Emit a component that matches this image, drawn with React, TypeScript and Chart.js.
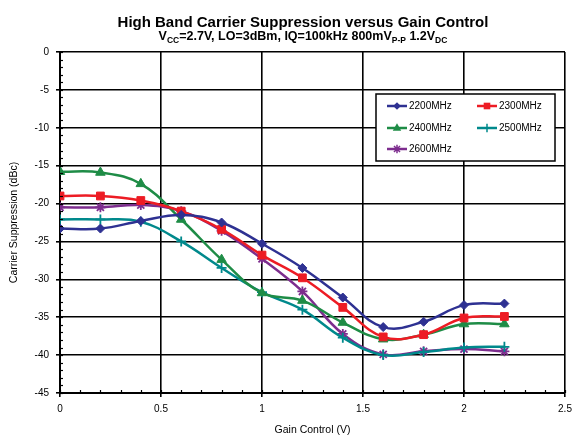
import React, { useEffect, useRef } from "react";
import { Chart, registerables } from "chart.js";

Chart.register(...registerables);

const gainControl = [0, 0.2, 0.4, 0.6, 0.8, 1.0, 1.2, 1.4, 1.6, 1.8, 2.0, 2.2];
const s2200 = [-23.3, -23.3, -22.3, -21.5, -22.5, -25.3, -28.5, -32.4, -36.3, -35.6, -33.4, -33.2];
const s2300 = [-19.0, -19.0, -19.6, -21.0, -23.4, -26.8, -29.8, -33.7, -37.6, -37.3, -35.1, -34.9];
const s2400 = [-15.8, -15.9, -17.4, -22.1, -27.4, -31.8, -32.8, -35.7, -37.9, -37.3, -35.9, -35.9];
const s2500 = [-22.1, -22.1, -22.4, -25.0, -28.5, -31.7, -34.0, -37.7, -40.0, -39.6, -39.0, -38.9];
const s2600 = [-20.5, -20.5, -20.2, -21.0, -23.6, -27.3, -31.6, -37.2, -39.9, -39.5, -39.2, -39.5];
const seriesNames = ["2200MHz", "2300MHz", "2400MHz", "2500MHz", "2600MHz"];
const titleLine1 = "High Band Carrier Suppression versus Gain Control";
const titleLine2 = [
  { t: "V", sub: false },
  { t: "CC", sub: true },
  { t: "=2.7V, LO=3dBm, IQ=100kHz 800mV", sub: false },
  { t: "P-P", sub: true },
  { t: " 1.2V", sub: false },
  { t: "DC", sub: true },
];
const xTitle = "Gain Control (V)";
const yTitle = "Carrier Suppression (dBc)";

const FONT = "'Liberation Sans', Arial, sans-serif";

const colors = ["#2E3192", "#ED1C24", "#1E8C46", "#00898C", "#7D2D8E"];
const styles = ["rectRot", "rect", "triangle", "cross", "star"];
const radii = [4.5, 5.5, 5.5, 5, 5];

function drawMarker(ctx: any, style: string, x: number, y: number, r: number, color: string) {
  ctx.save();
  ctx.fillStyle = color;
  ctx.strokeStyle = color;
  ctx.lineWidth = 1.5;
  ctx.beginPath();
  if (style === "rectRot") {
    ctx.moveTo(x, y - r);
    ctx.lineTo(x + r, y);
    ctx.lineTo(x, y + r);
    ctx.lineTo(x - r, y);
    ctx.closePath();
    ctx.fill();
  } else if (style === "rect") {
    const s = r * Math.SQRT1_2;
    ctx.fillRect(x - s, y - s, 2 * s, 2 * s);
  } else if (style === "triangle") {
    ctx.moveTo(x, y - r);
    ctx.lineTo(x + r * 0.9, y + r * 0.6);
    ctx.lineTo(x - r * 0.9, y + r * 0.6);
    ctx.closePath();
    ctx.fill();
  } else if (style === "cross") {
    ctx.moveTo(x, y - r);
    ctx.lineTo(x, y + r);
    ctx.moveTo(x - r, y);
    ctx.lineTo(x + r, y);
    ctx.stroke();
  } else {
    const d = r * Math.SQRT1_2;
    ctx.moveTo(x, y - r);
    ctx.lineTo(x, y + r);
    ctx.moveTo(x - r, y);
    ctx.lineTo(x + r, y);
    ctx.moveTo(x - d, y - d);
    ctx.lineTo(x + d, y + d);
    ctx.moveTo(x - d, y + d);
    ctx.lineTo(x + d, y - d);
    ctx.stroke();
  }
  ctx.restore();
}

const decorPlugin = {
  id: "decor",
  afterDraw(chart: any) {
    const ctx = chart.ctx;
    const xs = chart.scales.x;
    const ys = chart.scales.y;
    const area = chart.chartArea;
    ctx.save();
    // minor ticks
    ctx.strokeStyle = "#000";
    ctx.lineWidth = 1.2;
    for (let v = -45; v <= 0; v += 1) {
      const y = Math.round(ys.getPixelForValue(v)) + 0.5;
      ctx.beginPath();
      ctx.moveTo(area.left, y);
      ctx.lineTo(area.left + 3, y);
      ctx.stroke();
    }
    for (let i = 0; i <= 25; i++) {
      const x = Math.round(xs.getPixelForValue(i / 10)) + 0.5;
      ctx.beginPath();
      ctx.moveTo(x, area.bottom);
      ctx.lineTo(x, area.bottom - 3);
      ctx.stroke();
    }
    // title
    ctx.fillStyle = "#000";
    ctx.textBaseline = "alphabetic";
    ctx.textAlign = "left";
    ctx.font = "bold 15px " + FONT;
    const cx = 303;
    const w1 = ctx.measureText(titleLine1).width;
    ctx.fillText(titleLine1, cx - w1 / 2, 27);
    const mainFont = "bold 12.5px " + FONT;
    const subFont = "bold 8.5px " + FONT;
    let total = 0;
    for (const seg of titleLine2) {
      ctx.font = seg.sub ? subFont : mainFont;
      total += ctx.measureText(seg.t).width;
    }
    let x = cx - total / 2;
    for (const seg of titleLine2) {
      ctx.font = seg.sub ? subFont : mainFont;
      ctx.fillText(seg.t, x, seg.sub ? 43 : 40);
      x += ctx.measureText(seg.t).width;
    }
    // legend
    const bx = 376, by = 94, bw = 179, bh = 67;
    ctx.fillStyle = "#fff";
    ctx.fillRect(bx, by, bw, bh);
    ctx.strokeStyle = "#000";
    ctx.lineWidth = 1.5;
    ctx.strokeRect(bx, by, bw, bh);
    const rows = [106, 128, 149];
    const cols = [387, 477];
    ctx.font = "10px " + FONT;
    ctx.textBaseline = "middle";
    chart.data.datasets.forEach((ds: any, i: number) => {
      const lx = cols[i % 2];
      const ly = rows[Math.floor(i / 2)];
      ctx.strokeStyle = ds.borderColor;
      ctx.lineWidth = 2.5;
      ctx.beginPath();
      ctx.moveTo(lx, ly);
      ctx.lineTo(lx + 20, ly);
      ctx.stroke();
      drawMarker(ctx, ds.pointStyle, lx + 10, ly, ds.pointRadius * 0.85, ds.borderColor);
      ctx.fillStyle = "#000";
      ctx.fillText(ds.label, lx + 22, ly + 0.5);
    });
    ctx.restore();
  },
};

export default function App() {
  const ref = useRef<HTMLCanvasElement>(null);
  useEffect(() => {
    document.body.style.margin = "0";
    const allSeries = [s2200, s2300, s2400, s2500, s2600];
    const chart = new Chart(ref.current as HTMLCanvasElement, {
      type: "line",
      data: {
        datasets: allSeries.map((s, i) => ({
          label: seriesNames[i],
          data: gainControl.map((g, j) => ({ x: g, y: s[j] })),
          borderColor: colors[i],
          backgroundColor: colors[i],
          pointBackgroundColor: colors[i],
          pointBorderColor: colors[i],
          pointStyle: styles[i] as any,
          pointRadius: radii[i],
          pointBorderWidth: i >= 3 ? 1.8 : 1,
          borderWidth: 2.5,
          tension: 0.4,
          fill: false,
        })),
      },
      options: {
        animation: false,
        responsive: false,
        maintainAspectRatio: false,
        layout: { padding: { top: 52, right: 13, left: 0, bottom: 0 } },
        plugins: { legend: { display: false }, tooltip: { enabled: false }, title: { display: false } },
        scales: {
          x: {
            type: "linear",
            min: 0,
            max: 2.5,
            afterFit: (s: any) => {
              s.height = 46;
            },
            ticks: {
              stepSize: 0.5,
              color: "#000",
              font: { family: FONT, size: 10 },
              padding: 6,
              maxRotation: 0,
              callback: (v: any) => String(v),
            },
            grid: { color: "#000", lineWidth: 1.6, tickLength: 4, drawTicks: true },
            border: { color: "#000", width: 2 },
            title: {
              display: true,
              text: xTitle,
              color: "#000",
              font: { family: FONT, size: 10.5 },
              padding: { top: 0, bottom: 3 },
            },
          },
          y: {
            type: "linear",
            min: -45,
            max: 0,
            afterFit: (s: any) => {
              s.width = 60;
            },
            ticks: {
              stepSize: 5,
              color: "#000",
              font: { family: FONT, size: 10 },
              padding: 7,
            },
            grid: { color: "#000", lineWidth: 1.6, tickLength: 4, drawTicks: true },
            border: { color: "#000", width: 2 },
            title: {
              display: true,
              text: yTitle,
              color: "#000",
              font: { family: FONT, size: 10.5 },
              padding: { top: 8, bottom: 0 },
            },
          },
        },
      },
      plugins: [decorPlugin],
    });
    return () => chart.destroy();
  }, []);
  return <canvas ref={ref} width={578} height={439} style={{ display: "block" }} />;
}
